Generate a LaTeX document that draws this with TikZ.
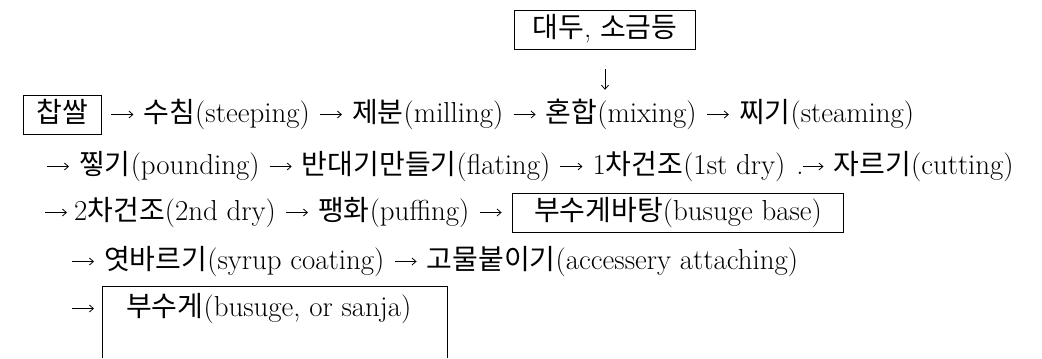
\documentclass[tikz,border=0pt]{standalone}
\usepackage{fontspec}
\newfontfamily\cjk[Scale=0.97]{Noto Sans CJK KR}
\newcommand\K[1]{{\cjk #1}}
\usetikzlibrary{positioning,arrows.meta}
\begin{document}
\begin{tikzpicture}[x=1bp,y=-1bp,
  lbl/.style={inner sep=0pt, font=\fontsize{29}{35}\selectfont, text height=22bp, text depth=7bp},
  boxed/.style={lbl, draw, line width=0.9bp, inner xsep=22bp, inner ysep=5bp},
  arr/.style={-{Straight Barb[length=4bp,width=7bp]}, line width=0.8bp, shorten <=10bp, shorten >=10bp}]
\useasboundingbox (0,0) rectangle (1042,358);
\coordinate (bot) at (0,358);
% top box
\node[boxed, inner xsep=18bp, anchor=base] (daedu) at (605,37) {\K{대두}, \K{소금등}};
% row 1
\node[boxed, inner xsep=13bp, anchor=base west] (rice) at (23,122) {\K{찹쌀}};
\node[lbl, base right=42bp of rice] (steep) {\K{수침}(steeping)};
\node[lbl, base right=42bp of steep] (mill) {\K{제분}(milling)};
\node[lbl, base right=42bp of mill] (mix) {\K{혼합}(mixing)};
\node[lbl, base right=42bp of mix] (steam) {\K{찌기}(steaming)};
\draw[arr] (rice) -- (steep);
\draw[arr] (steep) -- (mill);
\draw[arr] (mill) -- (mix);
\draw[arr] (mix) -- (steam);
\draw[arr, shorten <=20bp, shorten >=10bp] (daedu.south) -- (daedu.south |- mix.north);
% row 2
\coordinate (s2) at (37,166.5);
\node[lbl, anchor=base west] (pound) at (79,174) {\K{찧기}(pounding)};
\node[lbl, base right=42bp of pound] (flat) {\K{반대기만들기}(flating)};
\node[lbl, base right=42bp of flat] (dry1) {1\K{차건조}(1st dry)};
\node[lbl, base right=48bp of dry1] (cut) {\K{자르기}(cutting)};
\draw[arr] (s2) -- (pound);
\draw[arr] (pound) -- (flat);
\draw[arr] (flat) -- (dry1);
\draw[arr, shorten <=17bp] (dry1) -- node[pos=0.3, lbl, anchor=base, yshift=-7.5bp] {.} (cut);
% row 3
\coordinate (s3) at (35,212.5);
\node[lbl, anchor=base west] (dry2) at (74,220) {2\K{차건조}(2nd dry)};
\node[lbl, base right=42bp of dry2] (puff) {\K{팽화}(puffing)};
\node[boxed, base right=42bp of puff] (base) {\K{부수게바탕}(busuge base)};
\draw[arr, shorten >=7bp] (s3) -- (dry2);
\draw[arr] (dry2) -- (puff);
\draw[arr] (puff) -- (base);
% row 4
\coordinate (s4) at (62,261.5);
\node[lbl, anchor=base west] (syrup) at (104,269) {\K{엿바르기}(syrup coating)};
\node[lbl, base right=42bp of syrup] (acc) {\K{고물붙이기}(accessery attaching)};
\draw[arr] (s4) -- (syrup);
\draw[arr] (syrup) -- (acc);
% row 5
\coordinate (s5) at (62,308.5);
\node[lbl, inner xsep=24bp, inner ysep=7bp, anchor=base west] (fin) at (102,316) {\K{부수게}(busuge, or sanja)\hspace*{12bp}};
\draw[line width=0.9bp] (fin.north west |- bot) -- (fin.north west) -- (fin.north east) -- (fin.north east |- bot);
\draw[arr, shorten >=8bp] (s5) -- (fin);
\end{tikzpicture}
\end{document}
